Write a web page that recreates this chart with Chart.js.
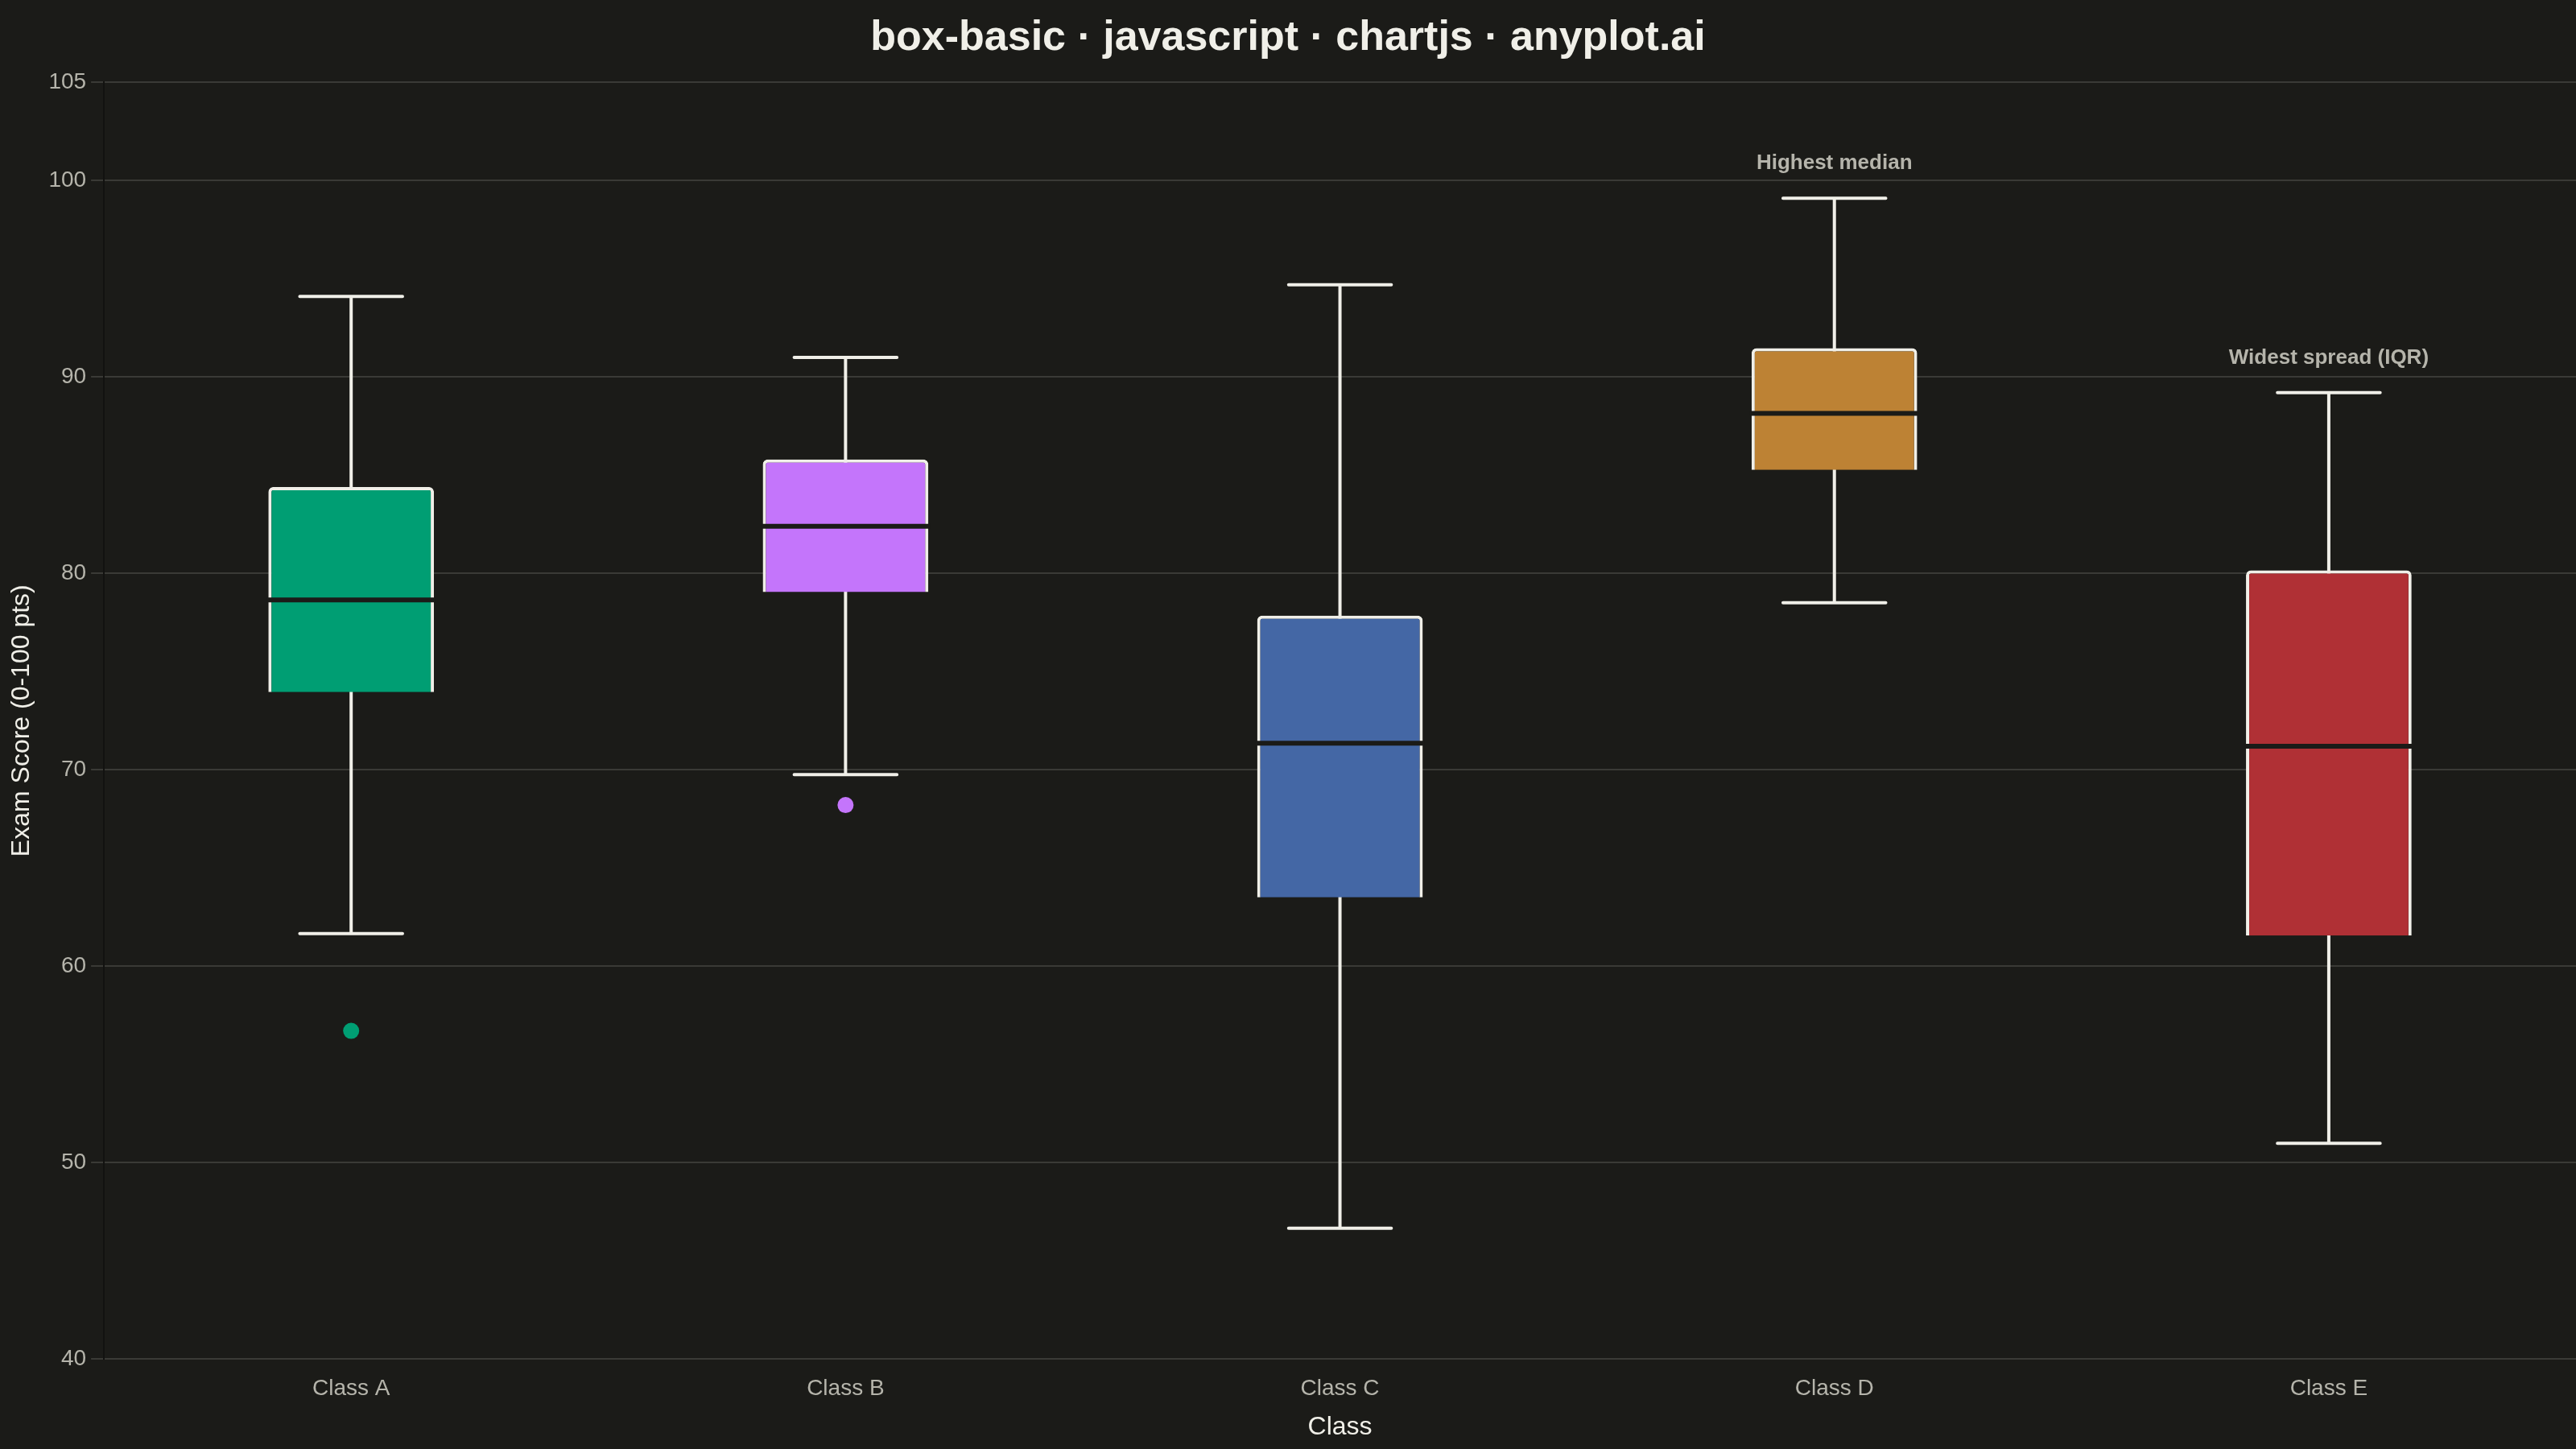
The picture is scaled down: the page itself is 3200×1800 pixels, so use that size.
<!DOCTYPE html>
<html>
<head>
<meta charset="utf-8">
<script src="https://cdn.jsdelivr.net/npm/chart.js@4.4.1/dist/chart.umd.min.js"></script>
<style>
  html, body { margin: 0; padding: 0; background: #1b1b18; }
  canvas { display: block; }
</style>
</head>
<body>
<canvas id="boxChart" width="3200" height="1800"></canvas>
<script>
// five-number summaries per class
const classes = ["Class A", "Class B", "Class C", "Class D", "Class E"];
const whiskerLow = [61.65, 69.75, 46.65, 78.5, 50.98];
const q1 = [73.95, 79.05, 63.5, 85.27, 61.55];
const medians = [78.65, 82.4, 71.35, 88.15, 71.2];
const q3 = [84.4, 85.8, 77.85, 91.47, 80.15];
const whiskerHigh = [94.1, 91.0, 94.7, 99.1, 89.2];
const outliers = [56.7, 68.2, null, null, null];
const yTicks = [40, 50, 60, 70, 80, 90, 100, 105];
const notes = ["", "", "", "Highest median", "Widest spread (IQR)"];

const boxColors = ["#009E73", "#C475FB", "#4467A5", "#BD8234", "#B03035"];
const ink = "#f0efe8";
const muted = "#b5b4ab";
const bg = "#1b1b18";
const fontFamily = "'Liberation Sans', Arial, sans-serif";

Chart.defaults.font.family = fontFamily;

// whiskers, caps, medians and notes drawn on top of the library's scales
const boxParts = {
  id: "boxParts",
  beforeDraw(chart) {
    const ctx = chart.ctx;
    ctx.save();
    ctx.fillStyle = bg;
    ctx.fillRect(0, 0, chart.width, chart.height);
    ctx.restore();
  },
  beforeDatasetsDraw(chart) {
    const ctx = chart.ctx;
    const x = chart.scales.x;
    const y = chart.scales.y;
    const bars = chart.getDatasetMeta(0).data;
    ctx.save();
    ctx.strokeStyle = ink;
    ctx.lineWidth = 4;
    ctx.lineCap = "round";
    classes.forEach((c, i) => {
      const cx = x.getPixelForValue(i);
      const half = bars[i].width * 0.31;
      const yLow = y.getPixelForValue(whiskerLow[i]);
      const yHigh = y.getPixelForValue(whiskerHigh[i]);
      ctx.beginPath();
      ctx.moveTo(cx, yLow);
      ctx.lineTo(cx, yHigh);
      ctx.moveTo(cx - half, yLow);
      ctx.lineTo(cx + half, yLow);
      ctx.moveTo(cx - half, yHigh);
      ctx.lineTo(cx + half, yHigh);
      ctx.stroke();
    });
    ctx.restore();
  },
  afterDatasetsDraw(chart) {
    const ctx = chart.ctx;
    const x = chart.scales.x;
    const y = chart.scales.y;
    const bars = chart.getDatasetMeta(0).data;
    ctx.save();
    // median lines
    ctx.strokeStyle = bg;
    ctx.lineWidth = 6;
    ctx.lineCap = "butt";
    classes.forEach((c, i) => {
      const half = bars[i].width / 2 + 2;
      const ym = y.getPixelForValue(medians[i]);
      ctx.beginPath();
      ctx.moveTo(bars[i].x - half, ym);
      ctx.lineTo(bars[i].x + half, ym);
      ctx.stroke();
    });
    // notes above whiskers
    ctx.fillStyle = muted;
    ctx.font = "bold 26px " + fontFamily;
    ctx.textAlign = "center";
    ctx.textBaseline = "middle";
    notes.forEach((t, i) => {
      if (!t) return;
      ctx.fillText(t, x.getPixelForValue(i), y.getPixelForValue(whiskerHigh[i]) - 43);
    });
    ctx.restore();
  }
};

const ctx = document.getElementById("boxChart").getContext("2d");
const chart = new Chart(ctx, {
  type: "bar",
  data: {
    labels: classes,
    datasets: [
      {
        label: "IQR",
        data: classes.map((c, i) => [q1[i], q3[i]]),
        backgroundColor: boxColors,
        borderColor: ink,
        borderWidth: 4,
        borderRadius: 6,
        borderSkipped: "start",
        barPercentage: 0.335,
        categoryPercentage: 1.0,
        order: 2
      },
      {
        type: "line",
        label: "Outliers",
        data: outliers,
        showLine: false,
        pointRadius: 10,
        pointBorderWidth: 0,
        pointBackgroundColor: boxColors,
        order: 1
      }
    ]
  },
  options: {
    responsive: false,
    animation: false,
    devicePixelRatio: 1,
    layout: { autoPadding: false, padding: { left: 0, right: 0, top: 0, bottom: 6 } },
    plugins: {
      legend: { display: false },
      tooltip: { enabled: false },
      title: {
        display: true,
        text: "box-basic · javascript · chartjs · anyplot.ai",
        color: ink,
        font: { size: 52, weight: "bold" },
        padding: { top: 16, bottom: 24 }
      }
    },
    scales: {
      x: {
        grid: { display: false },
        border: { display: false },
        ticks: { color: muted, font: { size: 28 }, padding: 12 },
        title: {
          display: true,
          text: "Class",
          color: ink,
          font: { size: 32 },
          padding: { top: 0, bottom: 2 }
        }
      },
      y: {
        min: 40,
        max: 105,
        afterBuildTicks(scale) {
          scale.ticks = yTicks.map(v => ({ value: v }));
        },
        grid: { color: "#3a3a36", lineWidth: 2, tickLength: 16 },
        border: { color: "#121210", width: 2 },
        ticks: { color: muted, font: { size: 28 }, padding: 6 },
        title: {
          display: true,
          text: "Exam Score (0-100 pts)",
          color: ink,
          font: { size: 32 },
          padding: { top: 8, bottom: 8 }
        }
      }
    }
  },
  plugins: [boxParts]
});
</script>
</body>
</html>
